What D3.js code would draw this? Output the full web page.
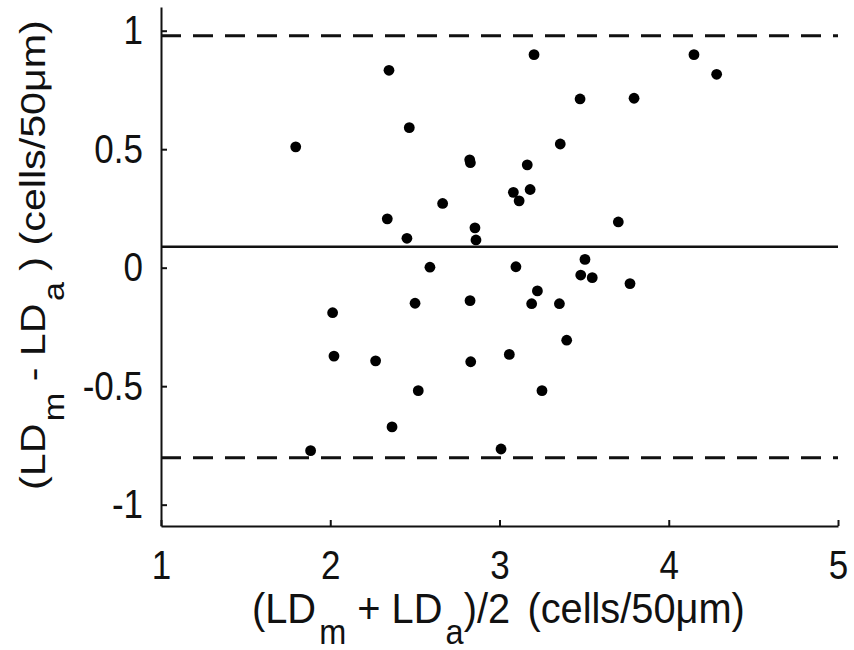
<!DOCTYPE html>
<html>
<head>
<meta charset="utf-8">
<script src="https://cdn.jsdelivr.net/npm/d3@7"></script>
<style>
  body { margin: 0; background: #fff; }
  svg { display: block; }
  text { font-family: "Liberation Sans", Arial, Helvetica, sans-serif; fill: #111; }
</style>
</head>
<body>
<svg id="chart" width="854" height="650"></svg>
<script>
// Bland-Altman data: mean (x) and difference (y)
const meanValues = [1.796, 1.884, 2.014, 2.022, 2.268, 2.337, 2.347, 2.365, 2.453, 2.467,
  2.501, 2.520, 2.589, 2.664, 2.824, 2.828, 2.826, 2.830, 2.855, 2.861,
  3.009, 3.058, 3.082, 3.097, 3.116, 3.164, 3.181, 3.190, 3.204, 3.224,
  3.251, 3.354, 3.359, 3.397, 3.476, 3.480, 3.505, 3.548, 3.702, 3.771,
  3.795, 4.149, 4.283];
const diffValues = [0.510, -0.772, -0.190, -0.373, -0.393, 0.206, 0.833, -0.672, 0.124, 0.591,
  -0.150, -0.519, 0.002, 0.271, 0.455, 0.443, -0.139, -0.397, 0.168, 0.117,
  -0.765, -0.366, 0.318, 0.004, 0.282, 0.434, 0.330, -0.152, 0.899, -0.098,
  -0.519, -0.152, 0.522, -0.306, 0.712, -0.031, 0.035, -0.042, 0.193, -0.067,
  0.715, 0.899, 0.816];
const meanDiff = 0.088;
const limitsOfAgreement = [0.979, -0.802];
const xTicks = [1, 2, 3, 4, 5];
const yTicks = [-1, -0.5, 0, 0.5, 1];
const xDomain = [1, 5];
const yDomain = [-1.09, 1.1];

const svg = d3.select("#chart");
const mLeft = 161, mRight = 838, mTop = 7, mBottom = 526;

const x = d3.scaleLinear().domain(xDomain).range([mLeft, mRight]);
const y = d3.scaleLinear().domain(yDomain).range([mBottom, mTop]);

// reference lines
svg.append("line")
  .attr("x1", x(xDomain[0])).attr("x2", x(xDomain[1]))
  .attr("y1", y(meanDiff)).attr("y2", y(meanDiff))
  .attr("stroke", "#111").attr("stroke-width", 2.5);

svg.selectAll(".loa").data(limitsOfAgreement).enter().append("line")
  .attr("class", "loa")
  .attr("x1", x(xDomain[0])).attr("x2", x(xDomain[1]))
  .attr("y1", d => y(d)).attr("y2", d => y(d))
  .attr("stroke", "#111").attr("stroke-width", 3)
  .attr("stroke-dasharray", "20,12");

// axes
const xAxis = d3.axisBottom(x).tickValues(xTicks).tickFormat(d3.format("d"))
  .tickSizeInner(-6).tickSizeOuter(0).tickPadding(21);
const yAxis = d3.axisLeft(y).tickValues(yTicks).tickFormat(d => String(d))
  .tickSizeInner(-6).tickSizeOuter(0).tickPadding(18);

const gx = svg.append("g").attr("transform", `translate(0,${mBottom})`).call(xAxis);
const gy = svg.append("g").attr("transform", `translate(${mLeft},0)`).call(yAxis);

[gx, gy].forEach(g => {
  g.select(".domain").attr("stroke", "#111").attr("stroke-width", 2);
  g.selectAll(".tick line").attr("stroke", "#111").attr("stroke-width", 2);
  g.selectAll(".tick text").attr("font-size", 35).attr("fill", "#111")
    .attr("font-family", "Liberation Sans, Arial, sans-serif")
    .attr("transform", "scale(1,1.15)");
});

// points
const pts = meanValues.map((m, i) => ({ m, d: diffValues[i] }));
svg.selectAll(".pt").data(pts).enter().append("circle")
  .attr("class", "pt")
  .attr("cx", p => x(p.m)).attr("cy", p => y(p.d))
  .attr("r", 5.4).attr("fill", "#000");

// helper to build a label with subscripts
function buildLabel(g, parts, mainSize, subSize, subShift) {
  const t = g.append("text").attr("x", 0).attr("y", 0).attr("font-size", mainSize);
  let down = false;
  parts.forEach(p => {
    const ts = t.append("tspan").text(p.t);
    if (p.sub) { ts.attr("font-size", subSize).attr("dy", subShift); down = true; }
    else if (down) { ts.attr("dy", -subShift); down = false; }
    if (p.dx) ts.attr("dx", p.dx);
  });
  return t;
}

// x title: spans roughly x 252..745, baseline ~623
const xtG = svg.append("g");
const xt = buildLabel(xtG, [
  { t: "(LD" }, { t: "m", sub: true, dx: 3 }, { t: " + LD" }, { t: "a", sub: true, dx: 3 },
  { t: ")/2" }, { t: " (cells/50μm)", dx: 6 }
], 38, 31, 18);
{
  const bb = xt.node().getBBox();
  const sx = (745 - 252) / bb.width;
  xtG.attr("transform", `translate(${252 - bb.x * sx},623) scale(${sx},1.14)`);
}

// y title: rotated, spans roughly y 490..20, baseline x ~45
const ytG = svg.append("g");
const yt = buildLabel(ytG, [
  { t: "(LD" }, { t: "m", sub: true, dx: 2 }, { t: " - LD" }, { t: "a", sub: true, dx: 2 },
  { t: " ) (cells/50μm)" }
], 35, 29, 19);
{
  const bb = yt.node().getBBox();
  const sl = (490 - 20) / bb.width;
  ytG.attr("transform", `translate(45,${490 + bb.x * sl}) rotate(-90) scale(${sl},1)`);
}
</script>
</body>
</html>
